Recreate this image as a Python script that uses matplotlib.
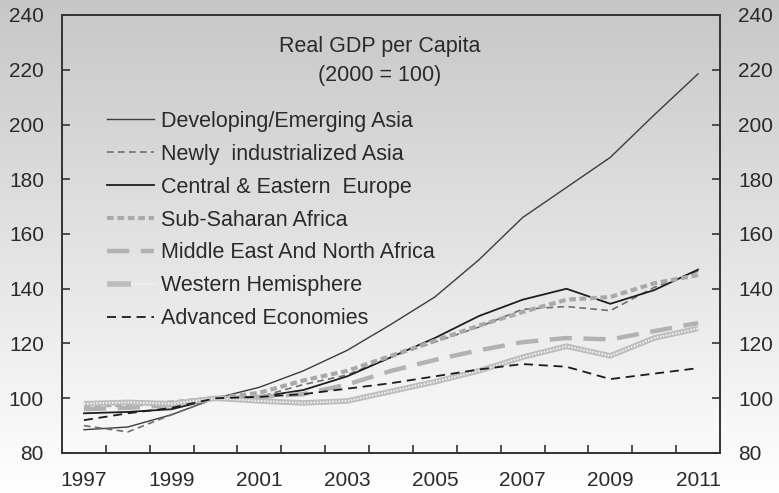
import numpy as np
import matplotlib
matplotlib.use("Agg")
import matplotlib.pyplot as plt
from matplotlib.legend_handler import HandlerTuple

plt.rcParams['font.family'] = ['Liberation Sans', 'DejaVu Sans']

years = list(range(1997, 2012))
dev_asia = [88.5, 89.5, 94.0, 100, 104.0, 110.0, 117.5, 127.0, 137.0, 150.5, 166.0, 177.0, 188.0, 203.5, 218.5]
nie_asia = [90.0, 87.7, 94.0, 100, 100.5, 105.0, 108.5, 115.0, 120.5, 126.0, 132.5, 133.5, 132.0, 140.5, 146.5]
cee = [94.5, 95.0, 96.0, 100, 100.5, 103.0, 108.0, 115.0, 122.0, 130.0, 136.0, 140.0, 134.5, 139.5, 147.0]
ssa = [97.5, 97.5, 98.5, 100, 102.0, 106.5, 110.0, 115.5, 121.0, 126.5, 131.5, 136.0, 137.0, 142.0, 145.0]
mena = [96.0, 96.5, 97.5, 100, 100.5, 101.5, 105.0, 110.0, 114.0, 117.5, 120.5, 122.0, 121.5, 124.5, 127.5]
west_hem = [98.0, 98.5, 98.0, 100, 99.0, 98.3, 99.0, 102.5, 106.0, 110.0, 115.0, 119.0, 115.5, 122.0, 125.5]
advanced = [92.0, 94.5, 96.5, 100, 100.5, 101.5, 103.5, 105.5, 108.0, 110.5, 112.5, 111.5, 107.0, 109.0, 111.0]

labels = ["Developing/Emerging Asia", "Newly  industrialized Asia", "Central & Eastern  Europe",
          "Sub-Saharan Africa", "Middle East And North Africa", "Western Hemisphere",
          "Advanced Economies"]
year_ticks = list(range(1997, 2012, 2))
y_ticks = list(range(80, 241, 20))

W, H = 779, 493
fig = plt.figure(figsize=(W / 100, H / 100), dpi=100)

# vertical grey-to-white background gradient over the whole figure
bg = fig.add_axes([0, 0, 1, 1], zorder=0)
grad = np.linspace(0.78, 1.0, 256)
bg.imshow(np.dstack([grad, grad, grad]).reshape(256, 1, 3),
          aspect='auto', extent=[0, 1, 0, 1], origin='upper')
bg.axis('off')

ax = fig.add_axes([62 / W, 1 - 453 / H, (720 - 62) / W, (453 - 15) / H], zorder=1)
ax.set_facecolor('none')

h_dev, = ax.plot(years, dev_asia, color='#3c3c3c', lw=1.0)
h_nie, = ax.plot(years, nie_asia, color='#6e6e6e', lw=1.2, dashes=(4, 2.6))
h_cee, = ax.plot(years, cee, color='#1e1e1e', lw=1.3)
h_ssa, = ax.plot(years, ssa, color='#a9a9a9', lw=3.0, dashes=(1.6, 0.9))
h_mena, = ax.plot(years, mena, color='#b2b2b2', lw=3.2, dashes=(5, 2.6))
h_wh1, = ax.plot(years, west_hem, color='#bdbdbd', lw=4.0, solid_capstyle='butt')
h_wh2, = ax.plot(years, west_hem, color='#f4f4f4', lw=1.4, dashes=(0.8, 0.8))
h_adv, = ax.plot(years, advanced, color='#1a1a1a', lw=1.3, dashes=(5, 3.2))

ax.set_xlim(1996.5, 2011.5)
ax.set_ylim(80, 240)
ax.set_xticks(year_ticks)
ax.set_xticks(np.arange(1997.5, 2011, 1.0), minor=True)
ax.set_yticks(y_ticks)
ax.tick_params(axis='x', which='major', length=0, pad=13, labelsize=15, labelcolor='#2a2a2a')
ax.tick_params(axis='x', which='minor', direction='in', length=6, width=1.2, color='#333333')
ax.tick_params(axis='y', which='major', direction='in', length=6, width=1.2, color='#333333',
               left=True, right=True, labelleft=True, labelright=True,
               pad=13, labelsize=15, labelcolor='#2a2a2a')
for s in ax.spines.values():
    s.set_color('#333333')
    s.set_linewidth(1.4)

ax.text(0.483, 0.895, "Real GDP per Capita\n(2000 = 100)", transform=ax.transAxes,
        ha='center', va='center', fontsize=15.5, color='#2a2a2a', linespacing=1.45)

leg = ax.legend([h_dev, h_nie, h_cee, h_ssa, h_mena, (h_wh1, h_wh2), h_adv], labels,
                handler_map={tuple: HandlerTuple(ndivide=None, pad=0)},
                loc='upper left', bbox_to_anchor=(107 / W, 1 - 111 / H),
                bbox_transform=fig.transFigure, frameon=False, fontsize=15.5,
                handlelength=2.2, handletextpad=0.33, labelspacing=0.55,
                borderpad=0, borderaxespad=0)
for t in leg.get_texts():
    t.set_color('#2a2a2a')

fig.savefig('out.png', dpi=100)
